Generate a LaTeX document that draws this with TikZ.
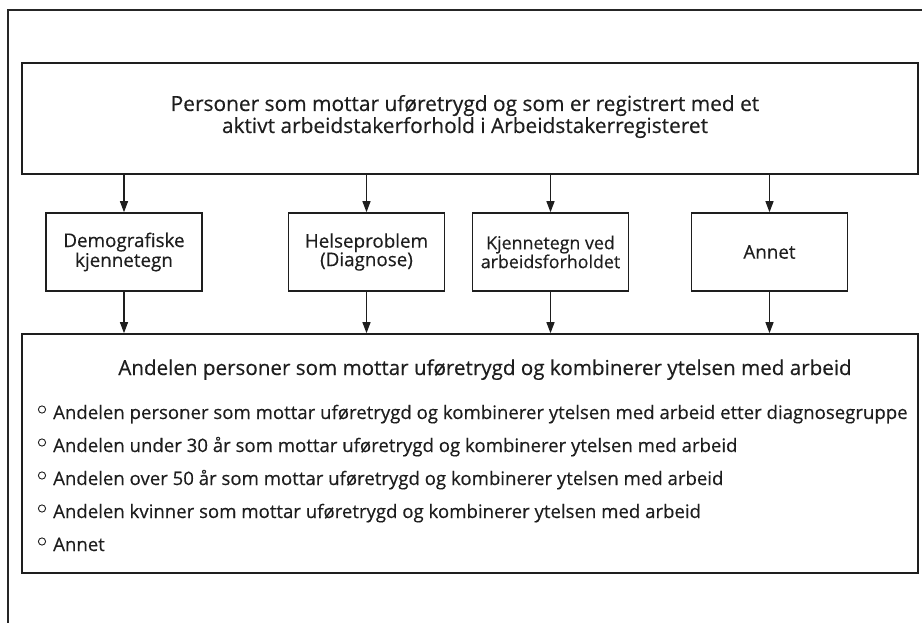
\documentclass[tikz,border=0pt]{standalone}
\usepackage{fontspec}
\setmainfont{Open Sans}[FakeBold=0.35]
\usetikzlibrary{arrows.meta}
\definecolor{ink}{HTML}{1E1E1E}
\tikzset{
  box/.style={draw=ink, line width=1.6pt, fill=white, inner sep=0pt, align=center, text=ink},
  small/.style={box, minimum width=156pt, minimum height=78pt, font=\fontsize{18.8}{18.5}\selectfont},
  arr/.style={draw=ink, line width=1.1pt, -{Triangle[length=11pt,width=8pt]}},
  lbl/.style={inner sep=0pt, text=ink},
  itm/.style={lbl, anchor=base west, font=\fontsize{18.6}{20}\selectfont},
  bul/.style={draw=ink, line width=0.9pt}
}
\begin{document}
\begin{tikzpicture}[x=1pt,y=-1pt]
\useasboundingbox (0,0) rectangle (922,623);
% outer frame (cropped)
\draw[line width=2.4pt, draw=black!85] (8,623) -- (8,10) -- (922,10);
% top box
\node[box, minimum width=896pt, minimum height=111pt] (top) at (470,118.5) {};
\node[lbl, anchor=base, font=\fontsize{20.9}{21}\selectfont] (t1) at (465,111) {Personer som mottar uføretrygd og som er registrert med et};
\node[lbl, anchor=base, font=\fontsize{20.9}{21}\selectfont] (t2) at (465,133) {aktivt arbeidstakerforhold i Arbeidstakerregisteret};
% small boxes
\node[small] (d) at (124,252) {Demografiske\\kjennetegn};
\node[small] (h) at (366.5,252) {Helseproblem\\(Diagnose)};
\node[small, font=\fontsize{17.8}{17.5}\selectfont] (k) at (550.5,252) {Kjennetegn ved\\arbeidsforholdet};
\node[small] (a) at (769.5,252) {Annet};
% bottom box
\node[box, minimum width=896pt, minimum height=239pt] (bot) at (470,453.5) {};
\node[lbl, anchor=base, font=\fontsize{20.6}{21}\selectfont] (hd) at (485,375) {Andelen personer som mottar uføretrygd og kombinerer ytelsen med arbeid};
\node[itm] (i1) at (53,419) {Andelen personer som mottar uføretrygd og kombinerer ytelsen med arbeid etter diagnosegruppe};
\node[itm] (i2) at (53,452) {Andelen under 30 år som mottar uføretrygd og kombinerer ytelsen med arbeid};
\node[itm] (i3) at (53,485) {Andelen over 50 år som mottar uføretrygd og kombinerer ytelsen med arbeid};
\node[itm] (i4) at (53,518) {Andelen kvinner som mottar uføretrygd og kombinerer ytelsen med arbeid};
\node[itm] (i5) at (53,551) {Annet};
\foreach \n in {i1,i2,i3,i4,i5}{
  \draw[bul] ([xshift=-11pt,yshift=9.5pt]\n.base west) circle[radius=3.6pt];
}
% arrows
\foreach \n in {d,h,k,a}{
  \draw[arr] (top.south -| \n.north) -- (\n.north);
  \draw[arr] (\n.south) -- (\n.south |- bot.north);
}
\end{tikzpicture}
\end{document}
